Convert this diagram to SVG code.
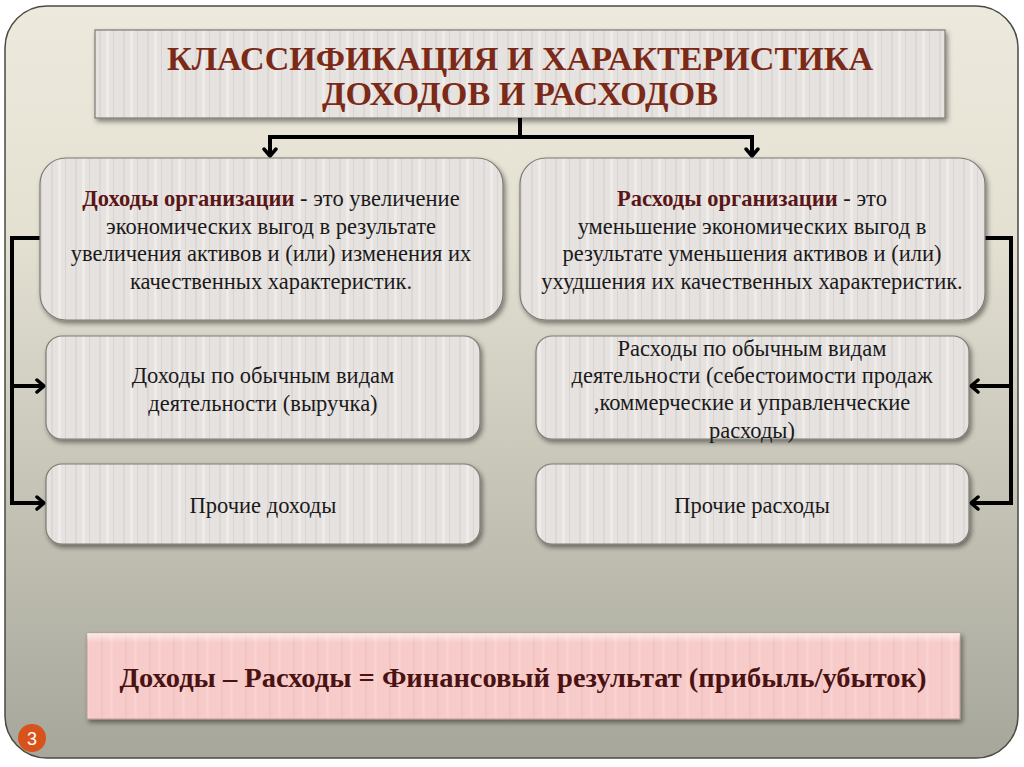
<svg xmlns="http://www.w3.org/2000/svg" width="1024" height="767" viewBox="0 0 1024 767">
<defs>
<linearGradient id="bg" x1="0" y1="0" x2="0" y2="1">
<stop offset="0" stop-color="#edeadd"/>
<stop offset="0.3" stop-color="#e4e1d3"/>
<stop offset="1" stop-color="#a6a69a"/>
</linearGradient>
<pattern id="stripes" patternUnits="userSpaceOnUse" width="24" height="10">
<rect width="24" height="10" fill="#e6e2e0"/>
<rect x="3" width="2" height="10" fill="#dcd8d6"/>
<rect x="10" width="3" height="10" fill="#efebe9"/>
<rect x="17" width="1" height="10" fill="#d8d4d2"/>
</pattern>
<pattern id="pinkstripes" patternUnits="userSpaceOnUse" width="24" height="10">
<rect width="24" height="10" fill="#f6cbc9"/>
<rect x="5" width="2" height="10" fill="#f1c4c2"/>
<rect x="14" width="3" height="10" fill="#f9d2d0"/>
</pattern>
<linearGradient id="bevelTop" x1="0" y1="0" x2="0" y2="1">
<stop offset="0" stop-color="#ffffff" stop-opacity="0.6"/>
<stop offset="1" stop-color="#ffffff" stop-opacity="0"/>
</linearGradient>
<filter id="shadow" x="-5%" y="-10%" width="115%" height="130%">
<feDropShadow dx="2" dy="3" stdDeviation="2.5" flood-color="#000" flood-opacity="0.45"/>
</filter>
<marker id="arr" markerWidth="16" markerHeight="16" refX="10" refY="8" orient="auto" markerUnits="userSpaceOnUse" viewBox="0 0 16 16">
<path d="M3,2 L10,8 L3,14" fill="none" stroke="#000" stroke-width="3.5" stroke-linecap="round" stroke-linejoin="round"/>
</marker>
<style>
.box{fill:url(#stripes);stroke:#7d7a74;stroke-width:1.2;filter:url(#shadow)}
.txt{font-family:"Liberation Serif","Times New Roman",serif;font-size:22.5px;fill:#1a1a1a;text-anchor:middle}
.bold{font-weight:bold;fill:#5a1616}
.title{font-family:"Liberation Serif","Times New Roman",serif;font-weight:bold;font-size:34px;fill:#7b2a18;text-anchor:middle}
.res{font-family:"Liberation Serif","Times New Roman",serif;font-weight:bold;font-size:27px;fill:#4a1212;text-anchor:middle}
.conn{fill:none;stroke:#000;stroke-width:4}
</style>
</defs>

<rect x="5" y="6" width="1013" height="752" rx="42" fill="url(#bg)" stroke="#4a4a42" stroke-width="1.5"/>

<g id="title">
<rect x="95" y="30" width="850" height="88" fill="url(#stripes)" stroke="#7d7a74" stroke-width="1.2" filter="url(#shadow)"/>
<text class="title" x="520" y="70" textLength="706" lengthAdjust="spacingAndGlyphs">КЛАССИФИКАЦИЯ И ХАРАКТЕРИСТИКА</text>
<text class="title" x="520" y="105" textLength="396" lengthAdjust="spacingAndGlyphs">ДОХОДОВ И РАСХОДОВ</text>
</g>

<g id="connectors">
<path class="conn" d="M520,118 V137"/>
<path class="conn" d="M268,137 H754"/>
<path class="conn" d="M270,137 V156" marker-end="url(#arr)"/>
<path class="conn" d="M752,137 V156" marker-end="url(#arr)"/>
<path class="conn" d="M40,238 H12 V503 H44" marker-end="url(#arr)"/>
<path class="conn" d="M12,386 H44" marker-end="url(#arr)"/>
<path class="conn" d="M985,238 H1011 V503 H971" marker-end="url(#arr)"/>
<path class="conn" d="M1011,386 H971" marker-end="url(#arr)"/>
</g>

<g id="income-def">
<rect class="box" x="40" y="158" width="463" height="162" rx="26"/>
<text class="txt" x="271" y="206"><tspan class="bold">Доходы организации</tspan> - это увеличение</text>
<text class="txt" x="271" y="234">экономических выгод в результате</text>
<text class="txt" x="271" y="261">увеличения активов и (или) изменения их</text>
<text class="txt" x="271" y="289">качественных характеристик.</text>
</g>

<g id="expense-def">
<rect class="box" x="520" y="158" width="465" height="162" rx="26"/>
<text class="txt" x="752" y="206"><tspan class="bold">Расходы организации</tspan> - это</text>
<text class="txt" x="752" y="234">уменьшение экономических выгод в</text>
<text class="txt" x="752" y="261">результате уменьшения активов и (или)</text>
<text class="txt" x="752" y="289">ухудшения их качественных характеристик.</text>
</g>

<g id="income-ordinary">
<rect class="box" x="46" y="336" width="434" height="103" rx="16"/>
<text class="txt" x="263" y="383">Доходы по обычным видам</text>
<text class="txt" x="263" y="411">деятельности (выручка)</text>
</g>

<g id="income-other">
<rect class="box" x="46" y="464" width="434" height="80" rx="16"/>
<text class="txt" x="263" y="513">Прочие доходы</text>
</g>

<g id="expense-ordinary">
<rect class="box" x="536" y="336" width="433" height="103" rx="16"/>
<text class="txt" x="752" y="356">Расходы по обычным видам</text>
<text class="txt" x="752" y="383">деятельности (себестоимости продаж</text>
<text class="txt" x="752" y="410">,коммерческие и управленческие</text>
<text class="txt" x="752" y="438">расходы)</text>
</g>

<g id="expense-other">
<rect class="box" x="536" y="464" width="433" height="80" rx="16"/>
<text class="txt" x="752" y="513">Прочие расходы</text>
</g>

<g id="result">
<rect x="87" y="633" width="873" height="86" fill="url(#pinkstripes)" stroke="#b89a98" stroke-width="1" filter="url(#shadow)"/>
<rect x="87" y="633" width="873" height="10" fill="url(#bevelTop)"/>
<text class="res" x="523" y="687" textLength="807" lengthAdjust="spacingAndGlyphs">Доходы – Расходы = Финансовый результат (прибыль/убыток)</text>
</g>

<g id="page-number">
<circle cx="32" cy="738" r="14" fill="#d8521c"/>
<text x="32" y="745" font-family="Liberation Sans, Arial, sans-serif" font-size="18" fill="#ffffff" text-anchor="middle">3</text>
</g>
</svg>
